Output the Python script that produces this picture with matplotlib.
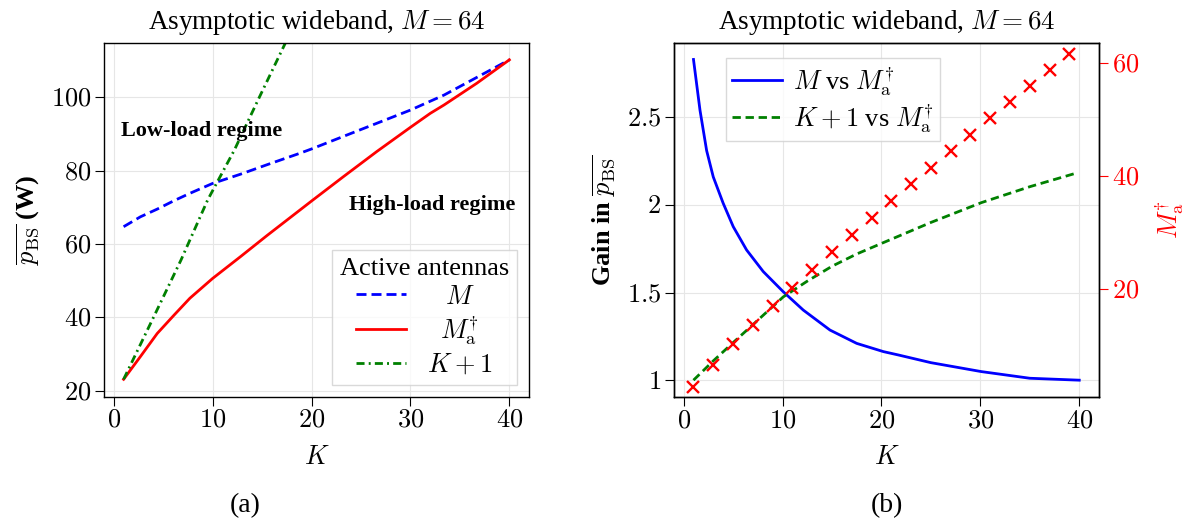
import numpy as np
import matplotlib
matplotlib.use('Agg')
import matplotlib.pyplot as plt
from matplotlib.ticker import FuncFormatter

plt.rcParams['font.family'] = ['Liberation Serif', 'DejaVu Serif']
plt.rcParams['mathtext.fontset'] = 'cm'
plt.rcParams['font.size'] = 19

# (a) average BS power vs K
K_M = [1, 2.7, 4.4, 6.1, 7.7, 10, 12.8, 15.5, 18.9, 20, 23.2, 26.6, 30, 33.4, 36.7, 40]
p_M = [64.7, 67.4, 69.5, 71.8, 73.8, 76.5, 79.0, 81.6, 84.8, 85.9, 89.3, 92.9, 96.5, 100.6, 105.4, 110.2]
K_Ma = [1, 2.7, 4.4, 6.1, 7.7, 10, 12.8, 15.5, 18.9, 20, 23.2, 26.6, 30, 32, 33.4, 36.7, 40]
p_Ma = [23.1, 29.3, 35.6, 40.6, 45.2, 50.6, 56.5, 62.3, 69.4, 71.7, 78.3, 85.2, 91.8, 95.6, 97.9, 103.8, 110.2]
K_k1 = [1, 3.9, 6.8, 9.5, 12.2, 14.6, 17.34]
p_K1 = [23.1, 39.3, 55.6, 72.0, 85.6, 99.3, 114.7]

# (b) gains and number of active antennas
K_gM = [1, 1.66, 2.33, 3, 4, 5.02, 6.37, 8.05, 10.07, 12.1, 14.8, 17.5, 20.2, 21.7, 25, 30.1, 35, 40]
gain_M = [2.83, 2.54, 2.31, 2.16, 2.01, 1.876, 1.743, 1.62, 1.505, 1.40, 1.286, 1.21,
          1.163, 1.144, 1.10, 1.049, 1.011, 1.0]
K_gK1 = [1, 3, 5.02, 7.07, 10.07, 12.5, 15, 17.5, 20.2, 25, 30.1, 35, 39.6]
gain_K1 = [1.0, 1.11, 1.215, 1.32, 1.475, 1.565, 1.65, 1.72, 1.785, 1.90, 2.013, 2.104, 2.18]
K_odd = list(range(1, 40, 2))
Ma_dag = [2.7, 6.6, 10.2, 13.7, 16.9, 20.1, 23.4, 26.6, 29.6, 32.5,
          35.6, 38.6, 41.5, 44.5, 47.3, 50.3, 53.2, 56.0, 58.8, 61.7]

mfmt = FuncFormatter(lambda v, pos: '$%g$' % v)

fig = plt.figure(figsize=(11.88, 5.25), dpi=100)
ax1 = fig.add_axes([0.0878, 0.2444, 0.3572, 0.6731])
ax2 = fig.add_axes([0.5675, 0.2438, 0.3572, 0.6743])

# ---- (a)
ax1.plot(K_M, p_M, color='blue', lw=2, ls=(0, (3.6, 1.8)), label=r'$M$')
ax1.plot(K_Ma, p_Ma, color='red', lw=2, label=r'$M_{\rm a}^{\dagger}$')
ax1.plot(K_k1, p_K1, color='green', lw=2, ls=(0, (2.9, 1.5, 0.7, 1.5)), label=r'$K+1$')
ax1.set_xlim(-0.95, 41.95)
ax1.set_ylim(18.36, 114.7)
ax1.set_xticks([0, 10, 20, 30, 40])
ax1.set_yticks([20, 40, 60, 80, 100])
ax1.xaxis.set_major_formatter(mfmt)
ax1.yaxis.set_major_formatter(mfmt)
ax1.grid(True, color='#e6e6e6', lw=0.8)
ax1.set_axisbelow(True)
ax1.set_xlabel(r'$K$', labelpad=10)
ax1.set_ylabel(r'$\overline{p_{\rm BS}}$ (W)', fontweight='bold', labelpad=6)
ax1.set_title(r'Asymptotic wideband, $M = 64$', fontsize=19.5, pad=10)
ax1.text(0.78, 90.9, 'Low-load regime', fontsize=16, fontweight='bold', va='center')
ax1.text(23.8, 70.6, 'High-load regime', fontsize=16, fontweight='bold', va='center')
leg1 = ax1.legend(loc='lower right', title='Active antennas', fontsize=19,
                  title_fontsize=19, fancybox=False, edgecolor='#d0d0d0',
                  framealpha=0.8, handlelength=1.9, labelspacing=0.2,
                  borderpad=0.3, borderaxespad=0.45)

# ---- (b)
ax2.plot(K_gM, gain_M, color='blue', lw=2, label=r'$M$ vs $M_{\rm a}^{\dagger}$')
ax2.plot(K_gK1, gain_K1, color='green', lw=2, ls=(0, (3, 1.7)),
         label=r'$K+1$ vs $M_{\rm a}^{\dagger}$')
ax2.set_xlim(-0.95, 41.95)
ax2.set_ylim(0.904, 2.924)
ax2.set_xticks([0, 10, 20, 30, 40])
ax2.set_yticks([1, 1.5, 2, 2.5])
ax2.xaxis.set_major_formatter(mfmt)
ax2.yaxis.set_major_formatter(mfmt)
ax2.grid(True, color='#e6e6e6', lw=0.8)
ax2.set_axisbelow(True)
ax2.set_xlabel(r'$K$', labelpad=10)
ax2.set_ylabel(r'Gain in $\overline{p_{\rm BS}}$', fontweight='bold', labelpad=6)
ax2.set_title(r'Asymptotic wideband, $M = 64$', fontsize=19.5, pad=10)
ax2.legend(loc='upper left', fontsize=19, fancybox=False, edgecolor='#d0d0d0',
           framealpha=0.8, handlelength=1.9, labelspacing=0.15, borderpad=0.25,
           handletextpad=0.4, bbox_to_anchor=(0.121, 0.957), borderaxespad=0)

ax3 = ax2.twinx()
ax3.plot(K_odd, Ma_dag, 'x', color='red', ms=9, mew=1.7)
ax3.set_ylim(0.85, 63.6)
ax3.set_yticks([20, 40, 60])
ax3.yaxis.set_major_formatter(mfmt)
ax3.tick_params(axis='y', colors='red')
ax3.spines['right'].set_color('black')
ax3.set_ylabel(r'$M_{\rm a}^{\dagger}$', color='red', labelpad=10)

for ax in (ax1, ax2, ax3):
    ax.tick_params(direction='out', length=6.5, width=0.8, pad=3)
    for s in ax.spines.values():
        s.set_linewidth(1.0)

fig.text(0.206, 0.025, '(a)', fontsize=20, ha='center')
fig.text(0.7466, 0.025, '(b)', fontsize=20, ha='center')

# center the legend labels of (a)
fig.canvas.draw()
texts = leg1.get_texts()
widths = [t.get_window_extent().width for t in texts]
wmax = max(widths)
for t, w in zip(texts, widths):
    t.set_x((wmax - w) / 2)

fig.savefig('out.png', dpi=100)
